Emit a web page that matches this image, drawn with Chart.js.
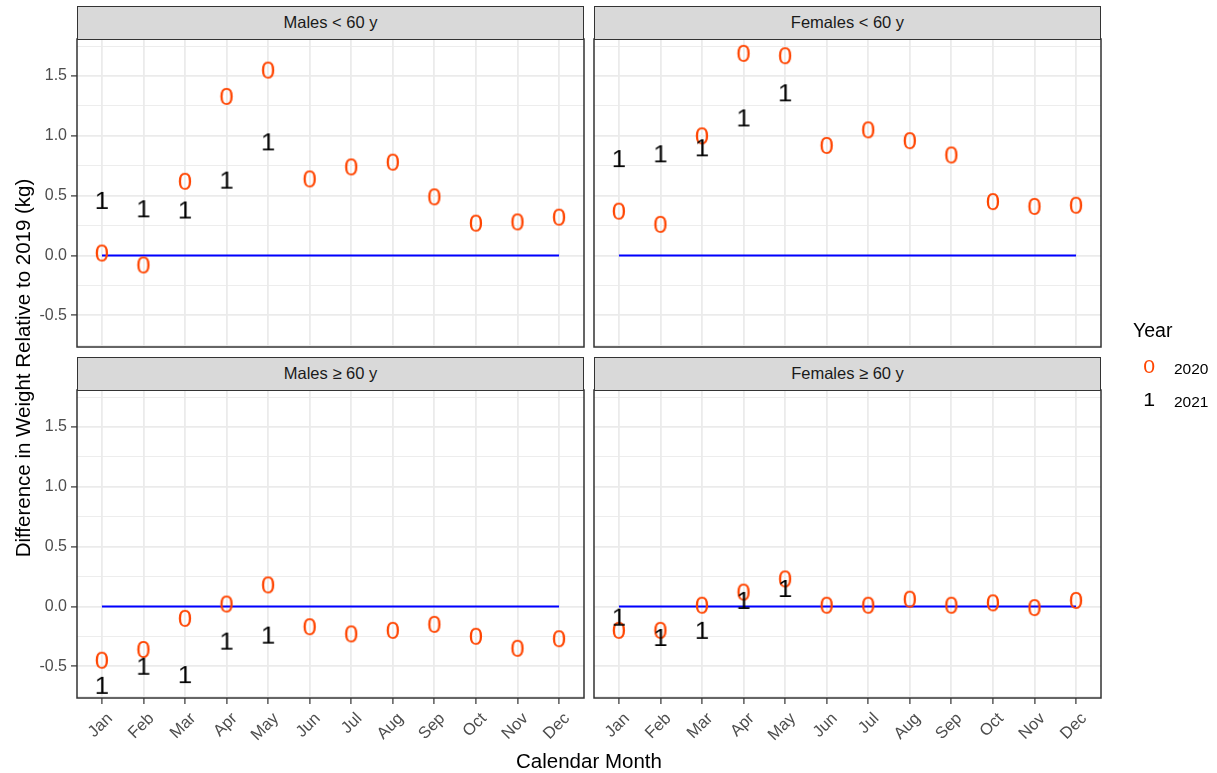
<!DOCTYPE html>
<html>
<head>
<meta charset="utf-8">
<script src="https://cdn.jsdelivr.net/npm/chart.js"></script>
<style>
  body { margin: 0; background: #fff; font-family: 'Liberation Sans', Arial, sans-serif; }
  #wrap { position: relative; width: 1217px; height: 773px; overflow: hidden; background: #fff; }
  canvas.panel { position: absolute; left: 0; top: 0; }
  .strip { position: absolute; box-sizing: border-box; height: 34px; width: 507px; background: #D9D9D9;
           border: 1.5px solid #333; color: #1A1A1A; font-size: 16.5px; text-align: center; line-height: 31px; }
  .txt { position: absolute; white-space: nowrap; line-height: 1; }
  .key { display: inline-block; transform: scaleX(1.12); }
</style>
</head>
<body>
<div id="wrap">
  <canvas class="panel" id="c1" width="1217" height="773"></canvas>
  <canvas class="panel" id="c2" width="1217" height="773"></canvas>
  <canvas class="panel" id="c3" width="1217" height="773"></canvas>
  <canvas class="panel" id="c4" width="1217" height="773"></canvas>

  <div class="strip" style="left:77px; top:6px;">Males &lt; 60 y</div>
  <div class="strip" style="left:594px; top:6px;">Females &lt; 60 y</div>
  <div class="strip" style="left:77px; top:357px;">Males ≥ 60 y</div>
  <div class="strip" style="left:594px; top:357px;">Females ≥ 60 y</div>

  <div class="txt" style="left:-277px; top:356px; width:600px; height:24px; line-height:24px; text-align:center; font-size:20.5px; color:#000; transform:rotate(-90deg);">Difference in Weight Relative to 2019 (kg)</div>
  <div class="txt" style="left:389px; top:751px; width:400px; text-align:center; font-size:20.5px; color:#000;">Calendar Month</div>

  <div class="txt" style="left:1133px; top:321px; font-size:19.5px; color:#000;">Year</div>
  <div class="txt" style="left:1139px; top:357px; width:20px; text-align:center; font-size:19px; color:#FF4500;"><span class="key">0</span></div>
  <div class="txt" style="left:1174px; top:361px; font-size:15.5px; color:#000;">2020</div>
  <div class="txt" style="left:1139px; top:390px; width:20px; text-align:center; font-size:19px; color:#000;"><span class="key">1</span></div>
  <div class="txt" style="left:1174px; top:394px; font-size:15.5px; color:#000;">2021</div>
</div>
<script>
// data
const months = ['Jan', 'Feb', 'Mar', 'Apr', 'May', 'Jun', 'Jul', 'Aug', 'Sep', 'Oct', 'Nov', 'Dec'];

const malesUnder60_2020 = [0.02, -0.08, 0.62, 1.33, 1.55, 0.64, 0.74, 0.78, 0.49, 0.27, 0.28, 0.32];
const malesUnder60_2021 = [0.46, 0.39, 0.38, 0.63, 0.95];

const femalesUnder60_2020 = [0.37, 0.26, 1.00, 1.69, 1.67, 0.92, 1.05, 0.96, 0.84, 0.45, 0.41, 0.42];
const femalesUnder60_2021 = [0.81, 0.85, 0.90, 1.15, 1.36];

const malesOver60_2020 = [-0.45, -0.36, -0.10, 0.02, 0.18, -0.17, -0.23, -0.20, -0.15, -0.25, -0.35, -0.27];
const malesOver60_2021 = [-0.66, -0.50, -0.57, -0.29, -0.24];

const femalesOver60_2020 = [-0.20, -0.20, 0.01, 0.12, 0.23, 0.01, 0.01, 0.06, 0.01, 0.03, -0.01, 0.05];
const femalesOver60_2021 = [-0.09, -0.26, -0.20, 0.05, 0.15];

const refValue = 0;

const yTickValues = [-0.5, 0, 0.5, 1, 1.5];
const yTickLabels = ['-0.5', '0.0', '0.5', '1.0', '1.5'];
const yMinorValues = [-0.75, -0.25, 0.25, 0.75, 1.25, 1.75];

// layout
const canvasW = 1217, canvasH = 773;
const yAxisW = 45, xAxisH = 70;
const fontFamily = "'Liberation Sans', Arial, sans-serif";

function makeGlyph(ch, color, size) {
  const c = document.createElement('canvas');
  c.width = Math.ceil(size * 0.9);
  c.height = Math.ceil(size * 1.2);
  const g = c.getContext('2d');
  g.font = size + 'px ' + fontFamily;
  g.fillStyle = color;
  g.textAlign = 'center';
  g.textBaseline = 'alphabetic';
  g.translate(c.width / 2, 0);
  g.scale(1.1, 1);
  g.fillText(ch, 0, c.height / 2 + size * 0.358);
  return c;
}

const glyph0 = makeGlyph('0', '#FF4500', 23.5);
const glyph1 = makeGlyph('1', '#000000', 23.5);

const isMajor = v => yTickValues.some(t => Math.abs(t - v) < 1e-9);

const panelBorder = {
  id: 'panelBorder',
  afterDraw(chart) {
    const a = chart.chartArea, g = chart.ctx;
    g.save();
    g.strokeStyle = '#333333';
    g.lineWidth = 1.5;
    g.strokeRect(a.left, a.top, a.right - a.left, a.bottom - a.top);
    g.restore();
  }
};

function makePanel(id, s2020, s2021, p) {
  const ctx = document.getElementById(id).getContext('2d');
  return new Chart(ctx, {
    type: 'scatter',
    data: {
      datasets: [
        {
          type: 'line',
          data: [{ x: 0, y: refValue }, { x: months.length - 1, y: refValue }],
          borderColor: '#0000FF',
          borderWidth: 2,
          pointRadius: 0,
          fill: false,
          order: 2
        },
        {
          data: s2020.map((v, i) => ({ x: i, y: v })),
          pointStyle: glyph0,
          pointRadius: 3,
          order: 1
        },
        {
          data: s2021.map((v, i) => ({ x: i, y: v })),
          pointStyle: glyph1,
          pointRadius: 3,
          order: 0
        }
      ]
    },
    options: {
      responsive: false,
      animation: false,
      events: [],
      layout: {
        padding: {
          left: p.left - (p.yAxis ? yAxisW : 0),
          right: canvasW - p.right,
          top: p.top,
          bottom: canvasH - p.bottom - (p.xAxis ? xAxisH : 0)
        }
      },
      plugins: { legend: { display: false }, tooltip: { enabled: false } },
      scales: {
        x: {
          type: 'linear',
          min: -0.6,
          max: 11.6,
          afterBuildTicks: s => { s.ticks = months.map((m, i) => ({ value: i })); },
          afterFit: s => { s.height = p.xAxis ? xAxisH : 0; },
          border: { display: false },
          grid: {
            color: '#EBEBEB', lineWidth: 1.8,
            drawTicks: p.xAxis, tickLength: 6, tickColor: '#333333', tickWidth: 1.2
          },
          ticks: {
            display: p.xAxis, autoSkip: false, minRotation: 45, maxRotation: 45,
            padding: 5, labelOffset: 8,
            color: '#4D4D4D', font: { family: fontFamily, size: 16.5 },
            callback: v => months[v]
          }
        },
        y: {
          type: 'linear',
          min: -0.766,
          max: 1.81,
          afterBuildTicks: s => {
            s.ticks = yTickValues.concat(yMinorValues).sort((a, b) => a - b).map(v => ({ value: v }));
          },
          afterFit: s => { s.width = p.yAxis ? yAxisW : 0; },
          border: { display: false },
          grid: {
            color: '#EBEBEB',
            lineWidth: c => isMajor(c.tick.value) ? 1.8 : 0.9,
            drawTicks: p.yAxis, tickLength: 6, tickWidth: 1.2,
            tickColor: c => isMajor(c.tick.value) ? '#333333' : 'rgba(0,0,0,0)'
          },
          ticks: {
            display: p.yAxis, padding: 4,
            color: '#4D4D4D', font: { family: fontFamily, size: 16 },
            callback: v => {
              const k = yTickValues.findIndex(t => Math.abs(t - v) < 1e-9);
              return k >= 0 ? yTickLabels[k] : '';
            }
          }
        }
      }
    },
    plugins: [panelBorder]
  });
}

makePanel('c1', malesUnder60_2020, malesUnder60_2021, { left: 77, right: 584, top: 39, bottom: 347, yAxis: true, xAxis: false });
makePanel('c2', femalesUnder60_2020, femalesUnder60_2021, { left: 594, right: 1101, top: 39, bottom: 347, yAxis: false, xAxis: false });
makePanel('c3', malesOver60_2020, malesOver60_2021, { left: 77, right: 584, top: 390, bottom: 698, yAxis: true, xAxis: true });
makePanel('c4', femalesOver60_2020, femalesOver60_2021, { left: 594, right: 1101, top: 390, bottom: 698, yAxis: false, xAxis: true });
</script>
</body>
</html>
